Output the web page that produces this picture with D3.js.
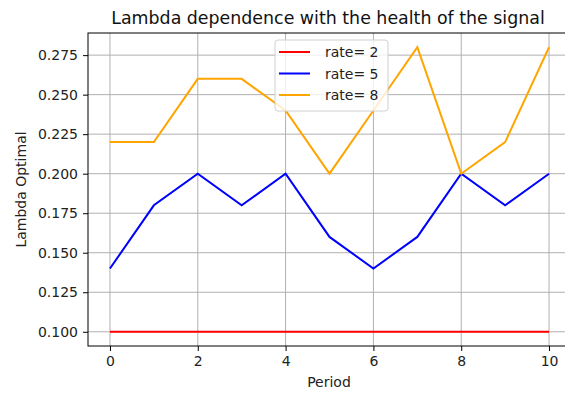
<!DOCTYPE html>
<html>
<head>
<meta charset="utf-8">
<script src="https://cdn.jsdelivr.net/npm/d3@7"></script>
<style>
  html, body { margin: 0; padding: 0; background: #fff; }
  svg { display: block; font-family: "DejaVu Sans", sans-serif; }
</style>
</head>
<body>
<svg id="chart" width="565" height="393"></svg>
<script>
// Period index on the x axis
const periods = [0, 1, 2, 3, 4, 5, 6, 7, 8, 9, 10];
// Optimal lambda per rate
const rate2 = [0.10, 0.10, 0.10, 0.10, 0.10, 0.10, 0.10, 0.10, 0.10, 0.10, 0.10];
const rate5 = [0.14, 0.18, 0.20, 0.18, 0.20, 0.16, 0.14, 0.16, 0.20, 0.18, 0.20];
const rate8 = [0.22, 0.22, 0.26, 0.26, 0.24, 0.20, 0.24, 0.28, 0.20, 0.22, 0.28];
const seriesNames = ["rate= 2", "rate= 5", "rate= 8"];
const seriesColors = ["#ff0000", "#0000ff", "#ffa500"];
const xTicks = [0, 2, 4, 6, 8, 10];
const yTicks = [0.100, 0.125, 0.150, 0.175, 0.200, 0.225, 0.250, 0.275];

const series = [rate2, rate5, rate8];

const svg = d3.select("#chart");
const plotL = 88, plotR = 571, plotT = 33, plotB = 346;
const fs = 14;

const x = d3.scaleLinear().domain([-0.5, 10.5]).range([plotL, plotR]);
const y = d3.scaleLinear().domain([0.091, 0.289]).range([plotB, plotT]);

// grid
const grid = svg.append("g");
grid.selectAll(".gx").data(xTicks).enter().append("line")
  .attr("x1", d => x(d)).attr("x2", d => x(d))
  .attr("y1", plotT).attr("y2", plotB)
  .attr("stroke", "#b0b0b0").attr("stroke-width", 1);
grid.selectAll(".gy").data(yTicks).enter().append("line")
  .attr("x1", plotL).attr("x2", plotR)
  .attr("y1", d => y(d)).attr("y2", d => y(d))
  .attr("stroke", "#b0b0b0").attr("stroke-width", 1);

// lines
const line = d3.line().x((d, i) => x(periods[i])).y(d => y(d));
series.forEach((s, k) => {
  svg.append("path").datum(s)
    .attr("d", line)
    .attr("fill", "none")
    .attr("stroke", seriesColors[k])
    .attr("stroke-width", 2)
    .attr("stroke-linejoin", "miter");
});

// frame
svg.append("rect")
  .attr("x", plotL).attr("y", plotT)
  .attr("width", plotR - plotL).attr("height", plotB - plotT)
  .attr("fill", "none").attr("stroke", "#000").attr("stroke-width", 1);

// axes
const xAxis = d3.axisBottom(x).tickValues(xTicks).tickSize(5).tickPadding(5)
  .tickFormat(d3.format("d"));
const gx = svg.append("g").attr("transform", `translate(0,${plotB})`).call(xAxis);
gx.select(".domain").remove();
gx.selectAll("text").attr("font-size", fs).attr("font-family", "DejaVu Sans").attr("fill", "#222");
gx.selectAll("line").attr("stroke", "#000");

const yAxis = d3.axisLeft(y).tickValues(yTicks).tickSize(5).tickPadding(5)
  .tickFormat(d3.format(".3f"));
const gy = svg.append("g").attr("transform", `translate(${plotL},0)`).call(yAxis);
gy.select(".domain").remove();
gy.selectAll("text").attr("font-size", fs).attr("font-family", "DejaVu Sans").attr("fill", "#222");
gy.selectAll("line").attr("stroke", "#000");

// title and axis labels
svg.append("text")
  .attr("x", 328).attr("y", 23.5)
  .attr("text-anchor", "middle").attr("font-size", 17.4).attr("fill", "#111")
  .text("Lambda dependence with the health of the signal");

svg.append("text")
  .attr("x", 329).attr("y", 386.5)
  .attr("text-anchor", "middle").attr("font-size", fs).attr("fill", "#222")
  .text("Period");

svg.append("text")
  .attr("transform", `translate(26,${(plotT + plotB) / 2}) rotate(-90)`)
  .attr("text-anchor", "middle").attr("font-size", fs).attr("fill", "#222")
  .text("Lambda Optimal");

// legend
const lg = svg.append("g").attr("transform", "translate(275,40)");
lg.append("rect")
  .attr("width", 113).attr("height", 71).attr("rx", 3)
  .attr("fill", "#fff").attr("fill-opacity", 0.8)
  .attr("stroke", "#d0d0d0").attr("stroke-width", 1);
seriesNames.forEach((name, k) => {
  const cy = 12 + k * 21.5;
  lg.append("line")
    .attr("x1", 4).attr("x2", 35).attr("y1", cy).attr("y2", cy)
    .attr("stroke", seriesColors[k]).attr("stroke-width", 2);
  lg.append("text")
    .attr("x", 50).attr("y", cy + 5)
    .attr("font-size", fs).attr("fill", "#222")
    .text(name);
});
</script>
</body>
</html>
